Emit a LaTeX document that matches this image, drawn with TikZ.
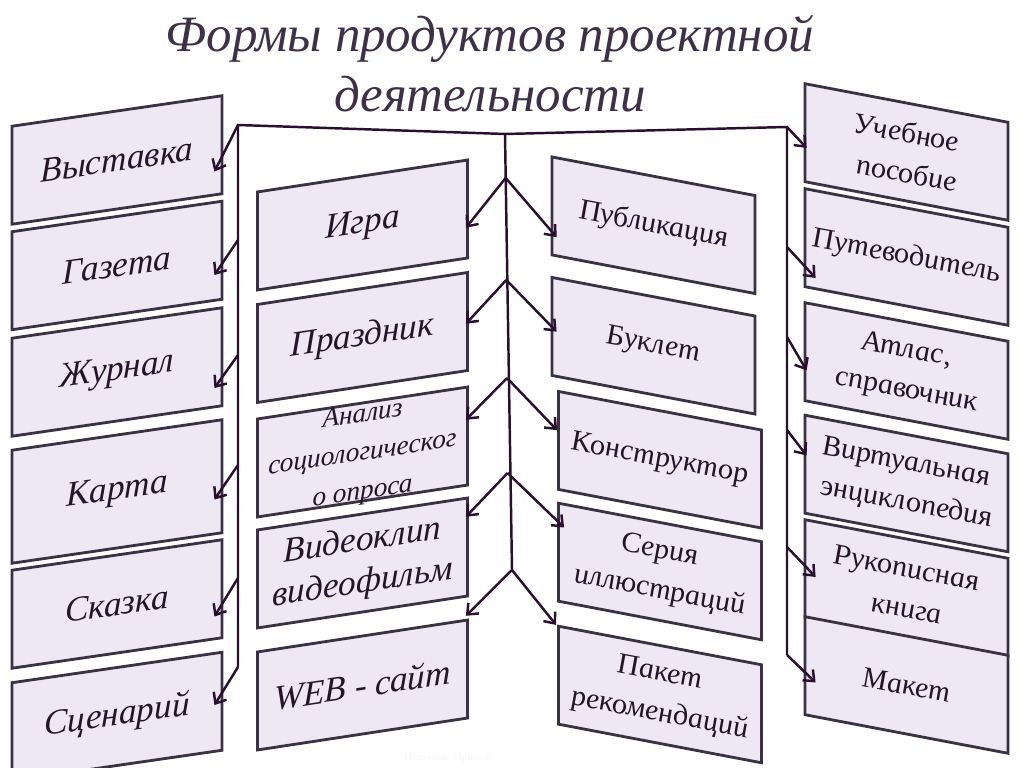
\documentclass[tikz,border=0pt]{standalone}
\usepackage{fontspec}
\setmainfont{Liberation Serif}
\usetikzlibrary{arrows.meta}
\definecolor{boxfill}{HTML}{EEE8F4}
\definecolor{boxline}{HTML}{3B3145}
\definecolor{ink}{HTML}{24152B}
\definecolor{wire}{HTML}{2A0F2E}
\definecolor{titleink}{HTML}{3E3048}
\begin{document}
\begin{tikzpicture}
  [x=0.2mm,y=-0.2mm,
   box/.style={draw=boxline,fill=boxfill,line width=1.6pt,minimum width=42mm,
     minimum height=19.6mm,inner sep=1pt,align=center,text=ink,
     font=\itshape\fontsize{20}{24}\selectfont},
   up/.style={box,yslant=#1},
   up/.default=0.145,
   down/.style={box,yslant=-0.19,minimum width=40.6mm},
   small/.style={font=\itshape\fontsize{17}{23}\selectfont},
   wire/.style={draw=wire,line width=1.4pt},
   arr/.style={wire,-{Straight Barb[length=1.8mm,width=3mm]}}]
  \useasboundingbox (0,0) rectangle (1024,768);
  \clip (0,0) rectangle (1024,768);

  \node[anchor=base,text=titleink,font=\itshape\fontsize{29}{34}\selectfont] (t1) at (490,52) {Формы продуктов проектной};
  \node[anchor=base,text=titleink,font=\itshape\fontsize{29}{34}\selectfont] (t2) at (490,112) {деятельности};

  % left column
  \node[up] (l1) at (117,160)   {Выставка};
  \node[up] (l2) at (117,265.5) {Газета};
  \node[up] (l3) at (117,372)   {Журнал};
  \node[up,minimum height=22.6mm] (l4) at (117,491.5) {Карта};
  \node[up] (l5) at (117,604)   {Сказка};
  \node[up] (l6) at (117,716.5) {Сценарий};

  % second column
  \node[up=0.152] (c1) at (362.5,225)   {Игра};
  \node[up=0.152] (c2) at (362.5,337.5) {Праздник};
  \node[up=0.152] (c3) at (362.5,452)
    {\raisebox{-4pt}[0pt][0pt]{\fontsize{15.5}{22}\selectfont\begin{tabular}{@{}c@{}}Анализ\\социологическог\\о опроса\end{tabular}}};
  \node[up=0.152] (c4) at (362.5,563)   {Видеоклип\\видеофильм};
  \node[up=0.152] (c5) at (362.5,685)   {WEB - сайт};

  % third column
  \node[down,small] (d1) at (653.5,225.25) {Публикация};
  \node[down,small] (d2) at (653.5,345.75) {Буклет};
  \node[down,small] (d3) at (660,459.75)   {Конструктор};
  \node[down,small] (d4) at (660,571.5)    {Серия\\иллюстраций};
  \node[down,small] (d5) at (660,694.5)    {Пакет\\рекомендаций};

  % right column
  \node[down,small] (r1) at (906.5,152)   {Учебное\\пособие};
  \node[down,small] (r2) at (906.5,257)   {Путеводитель};
  \node[down,small] (r3) at (906.5,371)   {Атлас,\\справочник};
  \node[down,small] (r4) at (906.5,483.5) {Виртуальная\\энциклопедия};
  \node[down,small] (r5) at (906.5,588)   {Рукописная\\книга};
  \node[down,small] (r6) at (906.5,685)   {Макет};

  \node[text=black!4,font=\fontsize{6}{7}\selectfont] (src) at (450,758) {Источник: Ирина К.};

  % trunks
  \coordinate (tl) at (238,125);
  \coordinate (tc) at (505,134);
  \coordinate (tr) at (787,127);
  \coordinate (lb) at (238,667);
  \coordinate (cb) at (512,570);
  \coordinate (rb) at (787,655);
  \coordinate (a2) at (238,240);
  \coordinate (a3) at (238,355);
  \coordinate (a4) at (238,465);
  \coordinate (a5) at (238,578);
  \coordinate (b1) at (505.7,178);
  \coordinate (b2) at (506.3,280);
  \coordinate (b3) at (507,378);
  \coordinate (b4) at (507.6,473);
  \coordinate (e2) at (787,247);
  \coordinate (e3) at (787,337);
  \coordinate (e4) at (787,430);
  \coordinate (e5) at (787,547);

  \draw[wire] (lb) -- (tl) -- (tc) -- (tr) -- (rb);
  \draw[wire] (tc) -- (cb);

  \foreach \from/\to/\dx/\dy in {tl/l1/-9/27,a2/l2/-9/25,a3/l3/-9/31.5,a4/l4/-9/23.5,a5/l5/-9/28,lb/l6/-9/4,
    b1/c1/-3/19,b2/c2/-3/2.5,b3/c3/-3/-16,b4/c4/-3/-30,cb/c5/-3/-53}
    \draw[arr] (\from) -- ([shift={(\dx,\dy)}]\to.east);
  \foreach \from/\to/\dx/\dy in {b1/d1/6/31.5,b2/d2/6/5.5,b3/d3/0/-10,b4/d4/7/-24.5,cb/d5/-1/-50,
    tr/r1/3/15.5,e2/r2/12/40.5,e3/r3/3/19,e4/r4/3/-8.5,e5/r5/12/8.5,rb/r6/12/17}
    \draw[arr] (\from) -- ([shift={(\dx,\dy)}]\to.west);
\end{tikzpicture}
\end{document}
